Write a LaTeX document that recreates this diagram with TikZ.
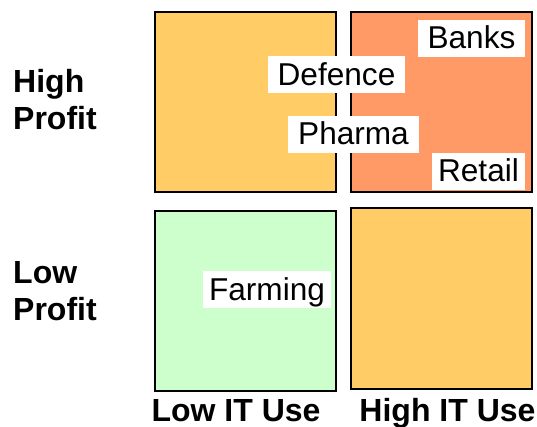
\documentclass[tikz,border=0pt]{standalone}
\usepackage{fontspec}
\setmainfont{Liberation Sans}
\usepackage{tikz}
\usetikzlibrary{positioning}

\definecolor{quadorange}{HTML}{FFCC66}
\definecolor{quadred}{HTML}{FF9966}
\definecolor{quadgreen}{HTML}{CCFFCC}

\begin{document}
\begin{tikzpicture}[x=1pt,y=-1pt,
        quad/.style={draw=black,line width=2pt,minimum width=181pt,minimum height=180pt,inner sep=0pt},
        tag/.style={fill=white,inner xsep=10pt,inner ysep=3.5pt,text height=25.5pt,text depth=4.5pt,font=\fontsize{31.6}{37}\selectfont},
        axislabel/.style={inner sep=0pt,align=left,font=\fontsize{32}{37}\selectfont\bfseries}]
    \useasboundingbox (0,0) rectangle (537,427);
    \node[quad,fill=quadorange] (hl) at (245,102){};
    \node[quad,fill=quadred] (hh) at (441.5,102){};
    \node[quad,fill=quadgreen] (ll) at (245.5,301){};
    \node[quad,fill=quadorange] (lh) at (441.5,298.5){};
    \node[tag] (banks) at (471.5,38.5){Banks};
    \node[tag] (defence) at (336.5,75){Defence};
    \node[tag] (pharma) at (353.5,134.5){Pharma};
    \node[tag,inner xsep=6pt] (retail) at (478.5,171.5){Retail};
    \node[tag,inner xsep=6pt] (farming) at (267,289.5){Farming};
    \node[axislabel,anchor=base west] (highprofit) at (13,130){High\\Profit};
    \node[axislabel,anchor=base west] (lowprofit) at (13,320){Low\\Profit};
    \node[axislabel,anchor=base] (lowit) at (236,421){Low IT Use};
    \node[axislabel,anchor=base] (highit) at (447.5,421){High IT Use};
\end{tikzpicture}
\end{document}
